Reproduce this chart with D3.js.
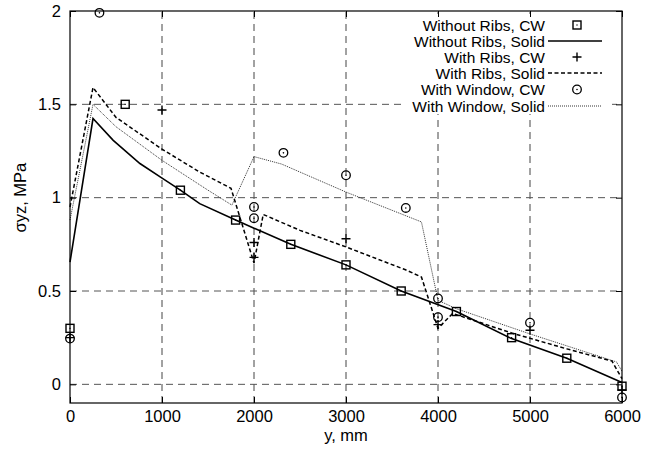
<!DOCTYPE html>
<html>
<head>
<meta charset="utf-8">
<script src="https://cdn.jsdelivr.net/npm/d3@7"></script>
<style>
  body { margin: 0; background: #fff; }
  text { font-family: "Liberation Sans", Arial, Helvetica, sans-serif; }
</style>
</head>
<body>
<svg id="chart" width="658" height="449"></svg>
<script>
// ---- data ----
const xTicks = [0, 1000, 2000, 3000, 4000, 5000, 6000];
const yTicks = [0, 0.5, 1, 1.5, 2];
const yTickLabels = ["0", "0.5", "1", "1.5", "2"];

const noRibsCwX = [0, 600, 1200, 1800, 2400, 3000, 3600, 4200, 4800, 5400, 6000];
const noRibsCwY = [0.30, 1.50, 1.04, 0.88, 0.75, 0.64, 0.50, 0.39, 0.25, 0.14, -0.01];

const noRibsSolidX = [0, 250, 470, 760, 980, 1200, 1410, 1800, 2400, 3000, 3600, 4200, 4800, 5400, 6000];
const noRibsSolidY = [0.655, 1.424, 1.307, 1.183, 1.111, 1.04, 0.968, 0.88, 0.75, 0.64, 0.50, 0.39, 0.245, 0.14, 0.01];

const ribsCwX = [0, 1000, 2000, 2000, 3000, 4000, 5000, 6000];
const ribsCwY = [0.25, 1.47, 0.76, 0.68, 0.78, 0.32, 0.29, -0.03];

const ribsSolidX = [0, 250, 500, 1000, 1400, 1750, 2000, 2100, 2500, 3000, 3640, 3820, 4000, 4160, 4800, 5400, 5890, 6000];
const ribsSolidY = [0.95, 1.59, 1.43, 1.26, 1.14, 1.05, 0.65, 0.91, 0.825, 0.736, 0.615, 0.575, 0.30, 0.38, 0.275, 0.19, 0.125, 0.03];

const windowCwX = [0, 320, 2000, 2000, 2320, 3000, 3650, 4000, 4000, 5000, 6000];
const windowCwY = [0.245, 1.99, 0.95, 0.89, 1.24, 1.12, 0.945, 0.46, 0.36, 0.33, -0.07];

const windowSolidX = [0, 250, 500, 1000, 1500, 1760, 2000, 2300, 3000, 3820, 4000, 4200, 5000, 5940, 6000];
const windowSolidY = [0.88, 1.50, 1.38, 1.20, 1.04, 0.96, 1.22, 1.18, 1.03, 0.87, 0.45, 0.405, 0.27, 0.12, 0.07];

const legendLabels = ["Without Ribs, CW", "Without Ribs, Solid", "With Ribs, CW", "With Ribs, Solid", "With Window, CW", "With Window, Solid"];

// ---- layout ----
const L = 70, R = 622, T = 11, B = 403;
const FS = 16.5, LFS = 15.5;
const svg = d3.select("#chart");
const x = d3.scaleLinear().domain([0, 6000]).range([L, R]);
const y = d3.scaleLinear().domain([-0.1, 2]).range([B, T]);

const zip = (xs, ys) => xs.map((v, i) => [v, ys[i]]);

// grid
const grid = svg.append("g");
grid.selectAll("line.gx").data(xTicks.filter(d => d > 0 && d < 6000)).enter().append("line")
  .attr("x1", d => x(d)).attr("x2", d => x(d)).attr("y1", B).attr("y2", T)
  .attr("stroke", "#444").attr("stroke-width", 1).attr("stroke-dasharray", "7,5");
grid.selectAll("line.gy").data(yTicks.filter(d => d < 2)).enter().append("line")
  .attr("x1", L).attr("x2", R).attr("y1", d => y(d)).attr("y2", d => y(d))
  .attr("stroke", "#555").attr("stroke-width", 1).attr("stroke-dasharray", "7,5");

// legend background
svg.append("rect").attr("x", 402).attr("y", 14).attr("width", 210).attr("height", 100).attr("fill", "#fff");

// lines
const line = d3.line().x(d => x(d[0])).y(d => y(d[1]));
svg.append("path").attr("d", line(zip(windowSolidX, windowSolidY)))
  .attr("fill", "none").attr("stroke", "#333").attr("stroke-width", 1).attr("stroke-dasharray", "1,1");
svg.append("path").attr("d", line(zip(ribsSolidX, ribsSolidY)))
  .attr("fill", "none").attr("stroke", "#000").attr("stroke-width", 1.5).attr("stroke-dasharray", "4,2.5");
svg.append("path").attr("d", line(zip(noRibsSolidX, noRibsSolidY)))
  .attr("fill", "none").attr("stroke", "#000").attr("stroke-width", 1.6);

// markers
function square(g, cx, cy) {
  g.append("rect").attr("x", cx - 4).attr("y", cy - 4).attr("width", 8).attr("height", 8)
    .attr("fill", "none").attr("stroke", "#000").attr("stroke-width", 1.4);
  g.append("rect").attr("x", cx - 0.6).attr("y", cy - 0.6).attr("width", 1.2).attr("height", 1.2).attr("fill", "#000");
}
function plus(g, cx, cy) {
  g.append("path").attr("d", `M${cx - 4.5},${cy}H${cx + 4.5}M${cx},${cy - 4.5}V${cy + 4.5}`)
    .attr("stroke", "#000").attr("stroke-width", 1.4);
}
function circle(g, cx, cy) {
  g.append("circle").attr("cx", cx).attr("cy", cy).attr("r", 4.3)
    .attr("fill", "none").attr("stroke", "#000").attr("stroke-width", 1.3);
  g.append("circle").attr("cx", cx).attr("cy", cy).attr("r", 0.8).attr("fill", "#000");
}
const mk = svg.append("g");
zip(noRibsCwX, noRibsCwY).forEach(d => square(mk, x(d[0]), y(d[1])));
zip(ribsCwX, ribsCwY).forEach(d => plus(mk, x(d[0]), y(d[1])));
zip(windowCwX, windowCwY).forEach(d => circle(mk, x(d[0]), y(d[1])));

// axes with inward ticks
const axB = svg.append("g").attr("transform", `translate(0,${B})`)
  .call(d3.axisBottom(x).tickValues(xTicks).tickFormat(d3.format("d")).tickSizeInner(-6).tickSizeOuter(0).tickPadding(7));
const axT = svg.append("g").attr("transform", `translate(0,${T})`)
  .call(d3.axisTop(x).tickValues(xTicks).tickFormat("").tickSizeInner(-6).tickSizeOuter(0));
const axLft = svg.append("g").attr("transform", `translate(${L},0)`)
  .call(d3.axisLeft(y).tickValues(yTicks).tickFormat((d, i) => yTickLabels[i]).tickSizeInner(-6).tickSizeOuter(0).tickPadding(9));
const axRt = svg.append("g").attr("transform", `translate(${R},0)`)
  .call(d3.axisRight(y).tickValues(yTicks).tickFormat("").tickSizeInner(-6).tickSizeOuter(0));
[axB, axT, axLft, axRt].forEach(a => {
  a.select(".domain").remove();
  a.selectAll("line").attr("stroke", "#000");
  a.selectAll("text").attr("font-size", FS).attr("fill", "#000")
    .style("font-family", '"Liberation Sans", Arial, sans-serif');
});

// border
svg.append("rect").attr("x", L).attr("y", T).attr("width", R - L).attr("height", B - T)
  .attr("fill", "none").attr("stroke", "#000").attr("stroke-width", 1.2);

// axis titles
svg.append("text").attr("x", x(3000)).attr("y", 441).attr("text-anchor", "middle")
  .attr("font-size", FS).text("y, mm");
svg.append("text").attr("transform", `translate(26,${y(1)}) rotate(-90)`).attr("text-anchor", "middle")
  .attr("font-size", FS).text("σyz, MPa");

// legend
const rowY = [25, 41, 57, 73, 89.5, 106];
const lg = svg.append("g");
legendLabels.forEach((lab, i) => {
  lg.append("text").attr("x", 545).attr("y", rowY[i] + 5.5).attr("text-anchor", "end")
    .attr("font-size", LFS).text(lab);
});
square(lg, 577, rowY[0]);
lg.append("line").attr("x1", 548).attr("x2", 602).attr("y1", rowY[1]).attr("y2", rowY[1])
  .attr("stroke", "#000").attr("stroke-width", 1.6);
plus(lg, 577, rowY[2]);
lg.append("line").attr("x1", 548).attr("x2", 602).attr("y1", rowY[3]).attr("y2", rowY[3])
  .attr("stroke", "#000").attr("stroke-width", 1.5).attr("stroke-dasharray", "4,2.5");
circle(lg, 577, rowY[4]);
lg.append("line").attr("x1", 548).attr("x2", 602).attr("y1", rowY[5]).attr("y2", rowY[5])
  .attr("stroke", "#333").attr("stroke-width", 1).attr("stroke-dasharray", "1,1");
</script>
</body>
</html>
